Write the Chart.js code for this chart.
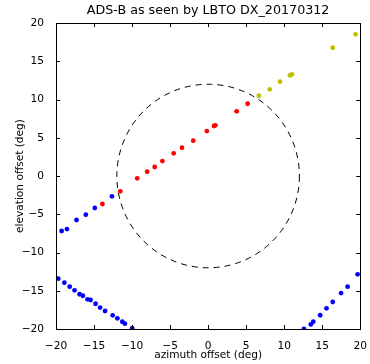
<!DOCTYPE html>
<html>
<head>
<meta charset="utf-8">
<script src="https://cdn.jsdelivr.net/npm/chart.js@4"></script>
<style>
  html, body { margin: 0; padding: 0; background: #fff; }
  #wrap { width: 370px; height: 364px; }
</style>
</head>
<body>
<div id="wrap"><canvas id="chart" width="370" height="364"></canvas></div>
<script>
// aircraft positions relative to pointing (deg)
const blueX = [-19.26, -18.56, -17.3, -16.08, -14.9, -12.64,
  -19.7, -18.9, -18.2, -17.56, -16.9, -16.47, -15.86, -15.46, -14.8, -14.2, -13.55, -12.55, -11.93, -11.28, -10.94, -9.98,
  12.6, 13.5, 13.82, 14.73, 15.56, 16.38, 17.48, 18.34, 19.65];
const blueY = [-7.19, -6.93, -5.75, -5.06, -4.18, -2.65,
  -13.42, -13.95, -14.47, -14.95, -15.46, -15.65, -16.12, -16.21, -16.7, -17.2, -17.65, -18.21, -18.6, -19.05, -19.3, -19.9,
  -20.0, -19.4, -19.05, -18.2, -17.3, -16.47, -15.3, -14.47, -12.85];
const redX = [-13.9, -11.55, -9.32, -8.01, -7.02, -6.01, -4.53, -3.44, -1.96, -0.17, 0.78, 0.95, 3.75, 5.19];
const redY = [-3.66, -2.0, -0.3, 0.56, 1.18, 1.96, 2.97, 3.70, 4.62, 5.88, 6.54, 6.63, 8.46, 9.45];
const yellowX = [6.67, 8.10, 9.45, 10.76, 11.02, 16.38, 19.39];
const yellowY = [10.5, 11.33, 12.33, 13.16, 13.29, 16.77, 18.52];

const fieldRadius = 12;
const axisMin = -20;
const axisMax = 20;
const tickStep = 5;

const font = 'DejaVu Sans';

function pts(xs, ys) {
  return xs.map((x, i) => ({ x: x, y: ys[i] }));
}

// dashed circle for the field of view
const fieldCircle = {
  id: 'fieldCircle',
  afterDatasetsDraw(chart) {
    const ctx = chart.ctx;
    const xs = chart.scales.x, ys = chart.scales.y;
    const cx = xs.getPixelForValue(0), cy = ys.getPixelForValue(0);
    const rx = xs.getPixelForValue(fieldRadius) - cx;
    const ry = cy - ys.getPixelForValue(fieldRadius);
    const a = chart.chartArea;
    ctx.save();
    ctx.beginPath();
    ctx.rect(a.left, a.top, a.right - a.left, a.bottom - a.top);
    ctx.clip();
    ctx.beginPath();
    ctx.ellipse(cx, cy, rx, ry, 0, 0, Math.PI * 2);
    ctx.setLineDash([6, 5]);
    ctx.lineWidth = 1;
    ctx.strokeStyle = '#000';
    ctx.stroke();
    ctx.restore();
  }
};

// box frame with inward ticks on every side
const frame = {
  id: 'frame',
  afterDraw(chart) {
    const ctx = chart.ctx;
    const a = chart.chartArea;
    const len = 4;
    ctx.save();
    ctx.strokeStyle = '#000';
    ctx.lineWidth = 1;
    ctx.beginPath();
    chart.scales.x.ticks.forEach(t => {
      const px = Math.round(chart.scales.x.getPixelForValue(t.value)) + 0.5;
      ctx.moveTo(px, a.bottom); ctx.lineTo(px, a.bottom - len);
      ctx.moveTo(px, a.top); ctx.lineTo(px, a.top + len);
    });
    chart.scales.y.ticks.forEach(t => {
      const py = Math.round(chart.scales.y.getPixelForValue(t.value)) + 0.5;
      ctx.moveTo(a.left, py); ctx.lineTo(a.left + len, py);
      ctx.moveTo(a.right, py); ctx.lineTo(a.right - len, py);
    });
    ctx.stroke();
    ctx.strokeRect(Math.round(a.left) + 0.5, Math.round(a.top) + 0.5,
      Math.round(a.right - a.left), Math.round(a.bottom - a.top));
    ctx.restore();
  }
};

function tickLabel(v) {
  return String(v).replace('-', '\u2212');
}

new Chart(document.getElementById('chart'), {
  type: 'scatter',
  data: {
    datasets: [
      { data: pts(blueX, blueY), backgroundColor: '#0000ff', borderWidth: 0, pointRadius: 2.4 },
      { data: pts(redX, redY), backgroundColor: '#ff0000', borderWidth: 0, pointRadius: 2.4 },
      { data: pts(yellowX, yellowY), backgroundColor: '#bfbf00', borderWidth: 0, pointRadius: 2.4 }
    ]
  },
  options: {
    responsive: false,
    animation: false,
    layout: { padding: { top: 0, right: 8, left: 0, bottom: 0 } },
    plugins: {
      legend: { display: false },
      tooltip: { enabled: false },
      title: {
        display: true,
        fullSize: false,
        text: 'ADS-B as seen by LBTO DX_20170312',
        color: '#000',
        font: { family: font, size: 12.7, weight: 'normal' },
        padding: { top: 3, bottom: 4.8 }
      }
    },
    scales: {
      x: {
        type: 'linear',
        min: axisMin,
        max: axisMax,
        grid: { display: false },
        border: { display: false },
        afterFit(scale) { scale.height = 35; },
        ticks: {
          stepSize: tickStep,
          color: '#000',
          padding: 3,
          maxRotation: 0,
          font: { family: font, size: 10.6 },
          callback: tickLabel
        },
        title: {
          display: true,
          text: 'azimuth offset (deg)',
          color: '#000',
          font: { family: font, size: 10.6 },
          padding: { top: 0, bottom: 2 }
        }
      },
      y: {
        type: 'linear',
        min: axisMin,
        max: axisMax,
        grid: { display: false },
        border: { display: false },
        afterFit(scale) { scale.width = 56; },
        ticks: {
          stepSize: tickStep,
          color: '#000',
          padding: 4,
          font: { family: font, size: 10.6 },
          callback: tickLabel
        },
        title: {
          display: true,
          text: 'elevation offset (deg)',
          color: '#000',
          font: { family: font, size: 10.6 },
          padding: { top: 14, bottom: 0 }
        }
      }
    }
  },
  plugins: [fieldCircle, frame]
});
</script>
</body>
</html>
